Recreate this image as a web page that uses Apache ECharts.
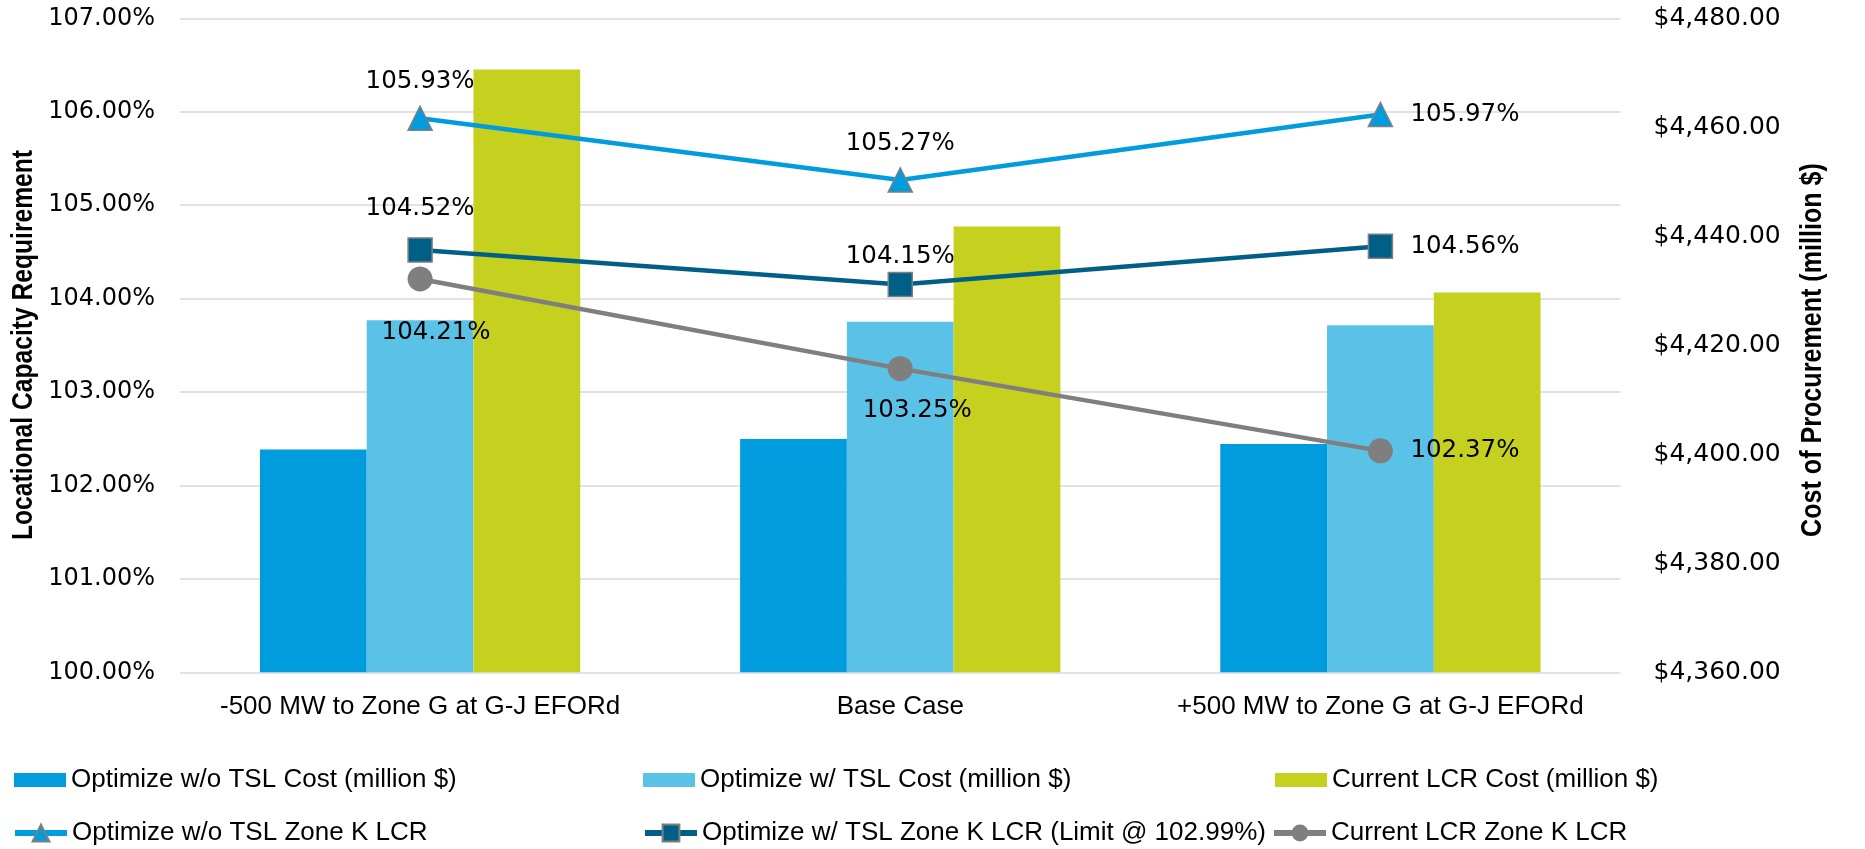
<!DOCTYPE html>
<html><head><meta charset="utf-8">
<script src="https://cdn.jsdelivr.net/npm/echarts@6/dist/echarts.min.js"></script>
<style>html,body{margin:0;padding:0;background:#fff}#c{width:1865px;height:849px}</style>
</head><body><div id="c"></div>
<script>
const categories = ['-500 MW to Zone G at G-J EFORd', 'Base Case', '+500 MW to Zone G at G-J EFORd'];
const seriesNames = [
  'Optimize w/o TSL Cost (million $)',
  'Optimize w/ TSL Cost (million $)',
  'Current LCR Cost (million $)',
  'Optimize w/o TSL Zone K LCR',
  'Optimize w/ TSL Zone K LCR (Limit @ 102.99%)',
  'Current LCR Zone K LCR'
];
const costNoTSL = [4400.9, 4402.8, 4401.9];
const costTSL = [4424.6, 4424.3, 4423.7];
const costCurrent = [4470.6, 4441.8, 4429.7];
const lcrNoTSL = [105.93, 105.27, 105.97];
const lcrTSL = [104.52, 104.15, 104.56];
const lcrCurrent = [104.21, 103.25, 102.37];
const leftTicks = [100, 101, 102, 103, 104, 105, 106, 107];
const rightTicks = [4360, 4380, 4400, 4420, 4440, 4460, 4480];

const FONT = '"Liberation Sans", Arial, sans-serif';
const WIDE = '"DejaVu Sans", Verdana, sans-serif';
const C_DARK = '#009CDE', C_LIGHT = '#5BC2E7', C_GREEN = '#C6D01F', C_NAVY = '#005F86', C_GRAY = '#7F7F7F';

// label placement styles (per point): [dx, dy, align]
const labelPlaceA = [[0, -37, 'center'], [0, -36, 'center'], [30, 0, 'left']];
const labelPlaceB = [[0, -41, 'center'], [0, -28, 'center'], [30, 0, 'left']];
const labelPlaceC = [[16, 54, 'center'], [17, 42, 'center'], [30, 0, 'left']];

function lineData(vals, place) {
  return vals.map((v, i) => ({
    value: v,
    label: {
      show: true, position: 'inside', align: place[i][2], verticalAlign: 'middle',
      offset: [place[i][0], place[i][1]],
      formatter: p => p.value.toFixed(2) + '%',
      fontSize: 24.5, fontFamily: WIDE, color: '#000'
    }
  }));
}

const chart = echarts.init(document.getElementById('c'), null, {renderer: 'canvas'});

function legendAt(name, left, top, isLine) {
  const o = {
    data: [name], left: left, top: top, padding: 0, selectedMode: false,
    itemWidth: isLine ? 52 : 52, itemHeight: isLine ? 21 : 14,
    textStyle: {fontSize: 26, fontFamily: FONT, color: '#000', padding: [0, 0, 0, 0]}
  };
  if (!isLine) o.icon = 'rect';
  else o.lineStyle = {width: 6};
  return o;
}

const option = {
  backgroundColor: '#fff',
  animation: false,
  grid: {left: 180, top: 18.3, width: 1440.5, height: 654},
  legend: [
    legendAt(seriesNames[0], 14, 767, false),
    legendAt(seriesNames[1], 643, 767, false),
    legendAt(seriesNames[2], 1275, 767, false),
    legendAt(seriesNames[3], 12, 820, true),
    legendAt(seriesNames[4], 642, 820, true),
    legendAt(seriesNames[5], 1271, 820, true)
  ],
  xAxis: {
    type: 'category', data: categories,
    axisLine: {show: false}, axisTick: {show: false},
    axisLabel: {interval: 0, fontSize: 26, fontFamily: FONT, color: '#000', margin: 22}
  },
  yAxis: [
    {
      type: 'value', min: leftTicks[0], max: leftTicks[leftTicks.length - 1], interval: 1,
      axisLine: {show: false}, axisTick: {show: false},
      axisLabel: {fontSize: 24, fontFamily: WIDE, color: '#000', margin: 25, formatter: v => v.toFixed(2) + '%'},
      splitLine: {lineStyle: {color: '#D9D9D9', width: 1.5}}
    },
    {
      type: 'value', min: rightTicks[0], max: rightTicks[rightTicks.length - 1], interval: 20,
      axisLine: {show: false}, axisTick: {show: false},
      axisLabel: {fontSize: 25, fontFamily: WIDE, color: '#000', margin: 33,
        formatter: v => '$' + v.toLocaleString('en-US', {minimumFractionDigits: 2, maximumFractionDigits: 2})},
      splitLine: {show: false}
    }
  ],
  graphic: [
    {type: 'text', x: 24, y: 345, rotation: Math.PI / 2, scaleX: 0.821, z: 100,
      style: {text: 'Locational Capacity Requirement', font: 'bold 30px ' + FONT, fill: '#000', align: 'center', verticalAlign: 'middle'}},
    {type: 'text', x: 1813, y: 350, rotation: Math.PI / 2, scaleX: 0.837, z: 100,
      style: {text: 'Cost of Procurement (million $)', font: 'bold 30px ' + FONT, fill: '#000', align: 'center', verticalAlign: 'middle'}}
  ],
  series: [
    {name: seriesNames[0], type: 'bar', yAxisIndex: 1, data: costNoTSL, barGap: 0, barCategoryGap: '33.3%', itemStyle: {color: C_DARK}},
    {name: seriesNames[1], type: 'bar', yAxisIndex: 1, data: costTSL, barGap: 0, barCategoryGap: '33.3%', itemStyle: {color: C_LIGHT}},
    {name: seriesNames[2], type: 'bar', yAxisIndex: 1, data: costCurrent, barGap: 0, barCategoryGap: '33.3%', itemStyle: {color: C_GREEN}},
    {name: seriesNames[3], type: 'line', yAxisIndex: 0, data: lineData(lcrNoTSL, labelPlaceA), z: 5,
      symbol: 'triangle', symbolSize: 24, lineStyle: {color: C_DARK, width: 4.5},
      itemStyle: {color: C_DARK, borderColor: C_GRAY, borderWidth: 1.5}},
    {name: seriesNames[4], type: 'line', yAxisIndex: 0, data: lineData(lcrTSL, labelPlaceB), z: 5,
      symbol: 'rect', symbolSize: 24, lineStyle: {color: C_NAVY, width: 4.5},
      itemStyle: {color: C_NAVY, borderColor: C_GRAY, borderWidth: 1.5}},
    {name: seriesNames[5], type: 'line', yAxisIndex: 0, data: lineData(lcrCurrent, labelPlaceC), z: 5,
      symbol: 'circle', symbolSize: 25, lineStyle: {color: C_GRAY, width: 4.5},
      itemStyle: {color: C_GRAY, borderColor: C_GRAY, borderWidth: 0}}
  ]
};
chart.setOption(option);
</script>
</body></html>
